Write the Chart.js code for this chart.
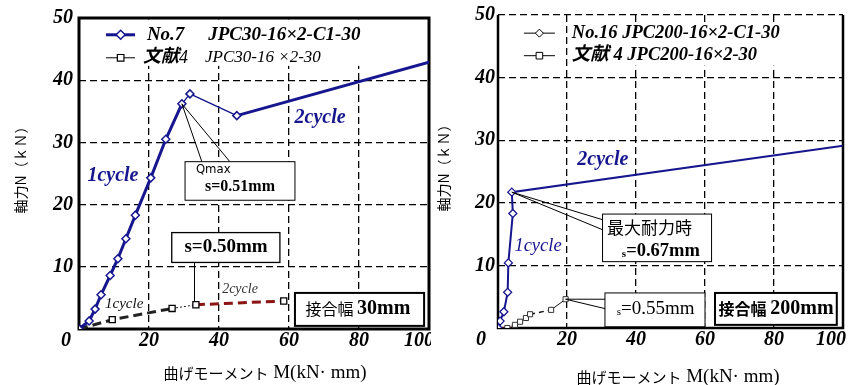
<!DOCTYPE html>
<html>
<head>
<meta charset="utf-8">
<script src="https://cdn.jsdelivr.net/npm/chart.js@4.4.0/dist/chart.umd.min.js"></script>
<style>
  body { margin: 0; background: #fff; width: 850px; height: 385px; overflow: hidden; position: relative; }
  #left { position: absolute; left: 0; top: 0; }
  #right { position: absolute; left: 431px; top: 0; z-index: 1; }
</style>
</head>
<body>
<canvas id="left" width="450" height="385"></canvas>
<canvas id="right" width="419" height="385"></canvas>
<script>
const SERIF = "'Liberation Serif','Noto Sans CJK JP',serif";
const GOTH = "'Noto Sans CJK JP','Noto Sans',sans-serif";
const NARROW = "'Liberation Sans Narrow','DejaVu Sans Condensed',sans-serif";
const BLUE = '#16168f';
const DARKRED = '#8c1414';

const xTicks = [0, 20, 40, 60, 80, 100];
const yTicks = [0, 10, 20, 30, 40, 50];

// 左: No.7 JPC30-16×2-C1-30  (M kN·mm, N kN)
const m7 = [0, 2.9, 4.6, 6.3, 8.9, 11.1, 13.4, 16.1, 20.5, 24.8, 29.4, 31.7, 45.1, 100];
const n7 = [0, 1.3, 3.2, 5.5, 8.6, 11.3, 14.5, 18.3, 24.3, 30.5, 36.2, 37.8, 34.3, 42.9];
// 左: 文献4 JPC30-16×2-30
const mRef30 = [0, 9.5, 26.6, 33.4, 58.5];
const nRef30 = [0, 1.5, 3.3, 3.9, 4.5];
// 右: No.16 JPC200-16×2-C1-30
const m16 = [0, 0.6, 1.7, 2.8, 3.0, 4.3, 4.0, 100];
const n16 = [0, 1.1, 2.6, 5.7, 10.4, 18.3, 21.7, 29.1];
// 右: 文献4 JPC200-16×2-30
const mRef200 = [0, 2.7, 4.9, 6.4, 8.1, 9.3, 15.4, 19.6];
const nRef200 = [0, 0.0, 0.5, 1.0, 1.6, 2.2, 2.9, 4.6];

const pts = (ms, ns) => ms.map((m, i) => ({x: m, y: ns[i]}));

function txt(ctx, s, x, y, font, color, align) {
  ctx.font = font;
  ctx.fillStyle = color || '#000';
  ctx.textAlign = align || 'left';
  ctx.textBaseline = 'middle';
  ctx.fillText(s, x, y);
}

// 書体の混ざる文字列 [text, font, color, dy]
function runs(ctx, parts, x, y, align) {
  let w = 0;
  parts.forEach(p => { ctx.font = p[1]; w += ctx.measureText(p[0]).width; });
  if (align === 'center') x -= w / 2;
  parts.forEach(p => {
    ctx.font = p[1];
    ctx.fillStyle = p[2] || '#000';
    ctx.textAlign = 'left';
    ctx.textBaseline = 'middle';
    ctx.fillText(p[0], x, y + (p[3] || 0));
    x += ctx.measureText(p[0]).width;
  });
}

function box(ctx, x1, y1, x2, y2, lw) {
  ctx.setLineDash([]);
  ctx.fillStyle = '#fff';
  ctx.fillRect(x1, y1, x2 - x1, y2 - y1);
  ctx.lineWidth = lw;
  ctx.strokeStyle = '#000';
  ctx.strokeRect(x1, y1, x2 - x1, y2 - y1);
}

function seg(ctx, x1, y1, x2, y2, lw, color) {
  ctx.setLineDash([]);
  ctx.beginPath();
  ctx.moveTo(x1, y1);
  ctx.lineTo(x2, y2);
  ctx.lineWidth = lw;
  ctx.strokeStyle = color || '#000';
  ctx.stroke();
}

function marker(ctx, kind, x, y, r, color, lw) {
  ctx.setLineDash([]);
  ctx.beginPath();
  if (kind === 'd') {
    ctx.moveTo(x, y - r); ctx.lineTo(x + r, y); ctx.lineTo(x, y + r); ctx.lineTo(x - r, y);
    ctx.closePath();
  } else {
    ctx.rect(x - r, y - r, 2 * r, 2 * r);
  }
  ctx.fillStyle = '#fff';
  ctx.fill();
  ctx.lineWidth = lw;
  ctx.strokeStyle = color;
  ctx.stroke();
}

function deco(under, over) {
  return {
    id: 'deco',
    beforeDraw(chart) {
      const ctx = chart.ctx;
      ctx.save();
      ctx.fillStyle = '#fff';
      ctx.fillRect(0, 0, chart.width, chart.height);
      ctx.restore();
    },
    beforeDatasetsDraw(chart) {
      const ctx = chart.ctx;
      const X = v => chart.scales.x.getPixelForValue(v);
      const Y = v => chart.scales.y.getPixelForValue(v);
      ctx.save();
      under(ctx, X, Y, chart);
      ctx.restore();
    },
    afterDatasetsDraw(chart) {
      const ctx = chart.ctx;
      const X = v => chart.scales.x.getPixelForValue(v);
      const Y = v => chart.scales.y.getPixelForValue(v);
      ctx.save();
      over(ctx, X, Y, chart);
      ctx.restore();
    }
  };
}

const tickFont = {family: SERIF, size: 20, style: 'italic', weight: 'bold'};

function scales(yWidth, xHeight, yPad, titlePad) {
  return {
    x: {
      type: 'linear', min: 0, max: 100,
      afterBuildTicks: s => { s.ticks = xTicks.map(v => ({value: v})); },
      afterFit: s => { s.height = xHeight; },
      ticks: {
        font: tickFont, color: '#000', padding: 0, maxRotation: 0,
        callback: v => (v === 0 || v === 100) ? '' : v
      },
      grid: {color: '#000', lineWidth: 1.3, drawTicks: false},
      border: {display: false, dash: [7, 4]}
    },
    y: {
      type: 'linear', min: 0, max: 50,
      afterBuildTicks: s => { s.ticks = yTicks.map(v => ({value: v})); },
      afterFit: s => { s.width = yWidth; },
      ticks: {
        font: tickFont, color: '#000', padding: yPad,
        callback: v => v === 0 ? '' : v
      },
      grid: {color: '#000', lineWidth: 1.3, drawTicks: false},
      border: {display: false, dash: [7, 4]},
      title: {
        display: true, text: '\u3000軸力N（ｋＮ）', color: '#000',
        font: {family: GOTH, size: 14, lineHeight: 1},
        padding: {top: titlePad, bottom: 0}
      }
    }
  };
}

function edgeLabels(ctx, X, chart, off0, off100) {
  const y = chart.scales.x.top + 12;
  const f = 'italic bold 20px ' + SERIF;
  txt(ctx, '0', X(0) + off0, y, f, '#000', 'center');
  txt(ctx, '100', X(100) + off100, y, f, '#000', 'center');
}

function xTitle(ctx, cx, y) {
  runs(ctx, [['曲げモーメント', '15px ' + GOTH], [' M(kN· mm)', '19px ' + SERIF]], cx, y, 'center');
}

// ---------- 左図 ----------
new Chart(document.getElementById('left'), {
  type: 'line',
  data: {
    datasets: [
      {
        label: 'No.7 JPC30-16×2-C1-30',
        data: pts(m7, n7),
        borderColor: BLUE,
        borderWidth: 3,
        segment: {borderWidth: c => (c.p0DataIndex === 10 || c.p0DataIndex === 11) ? 1.3 : 3},
        pointStyle: 'rectRot',
        pointRadius: m7.map((m, i) => i === m7.length - 1 ? 0 : 4),
        pointBackgroundColor: '#fff',
        pointBorderColor: BLUE,
        pointBorderWidth: 1.5,
        tension: 0
      },
      {
        label: '文献4 JPC30-16×2-30',
        data: pts(mRef30, nRef30),
        borderColor: '#222',
        borderWidth: 3,
        borderDash: [9, 5],
        segment: {
          borderColor: c => c.p0DataIndex === 3 ? DARKRED : '#222',
          borderWidth: c => c.p0DataIndex === 2 ? 1 : 3,
          borderDash: c => c.p0DataIndex === 2 ? [2, 2] : [9, 5]
        },
        pointStyle: 'rect',
        pointRadius: 4.3,
        pointBackgroundColor: '#fff',
        pointBorderColor: '#000',
        pointBorderWidth: 1.3,
        tension: 0
      }
    ]
  },
  options: {
    responsive: false,
    animation: false,
    layout: {padding: {left: 0, top: 16, right: 21, bottom: 0}},
    scales: scales(79, 56, 6, 14),
    plugins: {legend: {display: false}, tooltip: {enabled: false}}
  },
  plugins: [deco(
    (ctx, X, Y, chart) => {
      const a = chart.chartArea;
      ctx.fillStyle = '#fff';
      ctx.fillRect(X(0) + 1.5, Y(50) + 1.5, X(100) - X(0) - 3, Y(42.3) - Y(50) - 1.5);
      ctx.setLineDash([]);
      ctx.lineWidth = 3;
      ctx.strokeStyle = '#000';
      ctx.strokeRect(a.left, a.top, a.right - a.left, a.bottom - a.top);
      // 凡例
      seg(ctx, X(7.7), Y(47.3), X(16), Y(47.3), 3, BLUE);
      marker(ctx, 'd', X(11.9), Y(47.3), 4.5, BLUE, 1.5);
      txt(ctx, 'No.7', X(19.4), Y(47.3), 'italic bold 19px ' + SERIF);
      txt(ctx, 'JPC30-16×2-C1-30', X(36.9), Y(47.3), 'italic bold 19px ' + SERIF);
      seg(ctx, X(7.7), Y(43.6), X(16), Y(43.6), 1, '#000');
      marker(ctx, 's', X(11.9), Y(43.6), 3.3, '#000', 1.2);
      runs(ctx, [['文献', 'italic bold 18px ' + SERIF], ['4', 'italic 18px ' + SERIF]], X(18.3), Y(43.6));
      txt(ctx, 'JPC30-16 ×2-30', X(36), Y(43.6), 'italic 17px ' + SERIF);
      edgeLabels(ctx, X, chart, -13, -10);
      xTitle(ctx, 265, 373);
    },
    (ctx, X, Y) => {
      txt(ctx, '2cycle', X(68.9), Y(33.9), 'italic bold 20px ' + SERIF, BLUE, 'center');
      txt(ctx, '1cycle', X(9.7), Y(24.6), 'italic bold 20px ' + SERIF, BLUE, 'center');
      // Qmax
      seg(ctx, X(29.4), Y(36.2), X(35.1), Y(26.9), 1);
      seg(ctx, X(29.4), Y(36.2), X(43.1), Y(26.9), 1);
      box(ctx, X(30.3), Y(26.9), X(61.7), Y(20.7), 1);
      txt(ctx, 'Qmax', X(33.4), Y(25.6), '13px ' + NARROW);
      txt(ctx, 's=0.51mm', X(36), Y(22.9), 'bold 16px ' + SERIF);
      // s=0.50mm
      seg(ctx, X(33), Y(10.7), X(33), Y(4.4), 1);
      box(ctx, X(26.5), Y(15.5), X(57.4), Y(10.7), 1.3);
      txt(ctx, 's=0.50mm', X(42), Y(13.1), 'bold 19px ' + SERIF, '#000', 'center');
      txt(ctx, '1cycle', X(12.9), Y(4.0), 'italic 15px ' + SERIF, '#111', 'center');
      txt(ctx, '2cycle', X(46), Y(6.4), 'italic 14px ' + SERIF, '#333', 'center');
      box(ctx, X(61.7), Y(5.8), X(98.6), Y(0.5), 2);
      runs(ctx, [['接合幅 ', '16px ' + GOTH], ['30mm', 'bold 20px ' + SERIF]], X(79.7), Y(3.2), 'center');
    }
  )]
});

// ---------- 右図 ----------
new Chart(document.getElementById('right'), {
  type: 'line',
  data: {
    datasets: [
      {
        label: 'No.16 JPC200-16×2-C1-30',
        data: pts(m16, n16),
        borderColor: BLUE,
        borderWidth: 2,
        pointStyle: 'rectRot',
        pointRadius: m16.map((m, i) => i === m16.length - 1 ? 0 : 4),
        pointBackgroundColor: '#fff',
        pointBorderColor: BLUE,
        pointBorderWidth: 1.3,
        tension: 0
      },
      {
        label: '文献4 JPC200-16×2-30',
        data: pts(mRef200, nRef200),
        borderColor: '#b01010',
        borderWidth: 1.5,
        segment: {
          borderColor: c => c.p0DataIndex < 5 ? '#b01010' : '#111',
          borderWidth: c => c.p0DataIndex === 6 ? 1 : 1.5,
          borderDash: c => c.p0DataIndex < 5 ? [2, 1.5] : (c.p0DataIndex === 5 ? [5, 4] : [])
        },
        pointStyle: 'rect',
        pointRadius: 3.6,
        pointBackgroundColor: '#fff',
        pointBorderColor: '#333',
        pointBorderWidth: 1,
        tension: 0
      }
    ]
  },
  options: {
    responsive: false,
    animation: false,
    layout: {padding: {left: 0, top: 15, right: 7, bottom: 0}},
    scales: scales(67, 57, 3, 6),
    plugins: {legend: {display: false}, tooltip: {enabled: false}}
  },
  plugins: [deco(
    (ctx, X, Y, chart) => {
      const a = chart.chartArea;
      ctx.fillStyle = '#fff';
      ctx.fillRect(X(20.6), Y(48.6), X(85.2) - X(20.6), Y(41.9) - Y(48.6));
      ctx.setLineDash([]);
      ctx.lineWidth = 2.5;
      ctx.strokeStyle = '#000';
      ctx.beginPath();
      ctx.moveTo(a.left, a.top);
      ctx.lineTo(a.left, a.bottom);
      ctx.lineTo(a.right, a.bottom);
      ctx.lineTo(a.right, a.top);
      ctx.stroke();
      // 凡例
      seg(ctx, X(7.5), Y(47.1), X(16.5), Y(47.1), 1, '#000');
      marker(ctx, 'd', X(12), Y(47.1), 4, '#000', 1);
      txt(ctx, 'No.16 JPC200-16×2-C1-30', X(21.4), Y(47.1), 'italic bold 18.5px ' + SERIF);
      seg(ctx, X(7.5), Y(43.5), X(16.5), Y(43.5), 1, '#000');
      marker(ctx, 's', X(12), Y(43.5), 3.3, '#000', 1);
      txt(ctx, '文献 4 JPC200-16×2-30', X(21.4), Y(43.5), 'italic bold 18.5px ' + SERIF);
      edgeLabels(ctx, X, chart, -17, -12);
      xTitle(ctx, 678 - 431, 377);
    },
    (ctx, X, Y) => {
      txt(ctx, '2cycle', X(30.4), Y(26.8), 'italic bold 20px ' + SERIF, BLUE, 'center');
      txt(ctx, '1cycle', X(11.6), Y(13.1), 'italic 18.5px ' + SERIF, BLUE, 'center');
      // 最大耐力時
      seg(ctx, X(4.0), Y(21.7), X(30.3), Y(17.3), 1);
      seg(ctx, X(4.0), Y(21.7), X(30.3), Y(15.7), 1);
      box(ctx, X(30.3), Y(18.2), X(61.9), Y(10.6), 1);
      txt(ctx, '最大耐力時', X(31.6), Y(16.0), '17px ' + GOTH);
      runs(ctx, [['s', 'bold 11px ' + SERIF, '#000', 3], ['=0.67mm', 'bold 18.5px ' + SERIF]], X(35.9), Y(12.3));
      // s=0.55mm
      seg(ctx, X(19.6), Y(4.6), X(31), Y(4.6), 1);
      seg(ctx, X(19.6), Y(4.6), X(31), Y(3.1), 1);
      box(ctx, X(31), Y(5.6), X(60), Y(0.2), 1);
      runs(ctx, [['s', '11px ' + SERIF, '#000', 3], ['=0.55mm', '19px ' + SERIF]], X(34.4), Y(3.0));
      box(ctx, X(62.9), Y(5.6), X(98.2), Y(0.5), 2);
      runs(ctx, [['接合幅 ', 'bold 16px ' + GOTH], ['200mm', 'bold 20px ' + SERIF]], X(80.6), Y(3.0), 'center');
    }
  )]
});
</script>
</body>
</html>
